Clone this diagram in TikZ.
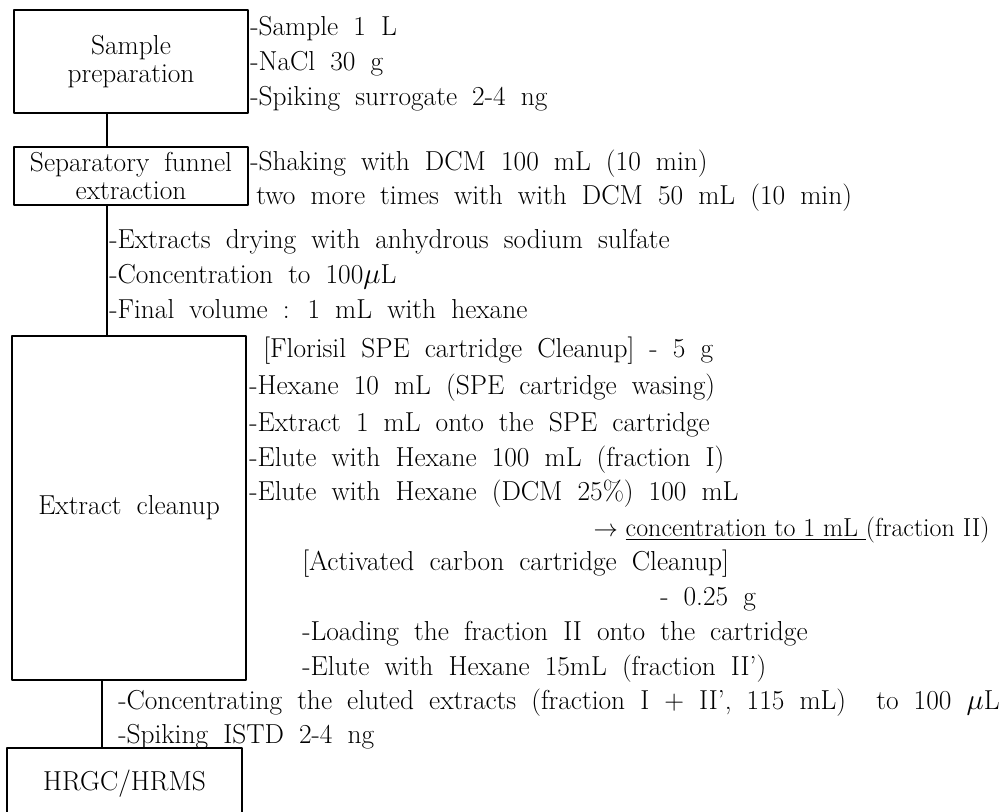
\documentclass[tikz,border=0pt]{standalone}
\usepackage{amsmath,amssymb}
\newcommand{\widesp}{\spaceskip=0.55em plus 0.1em\relax}
\newcommand{\tightsp}{\spaceskip=0.3em plus 0.05em\relax}

\begin{document}
\begin{tikzpicture}[line cap=round,line join=round,x=0.025cm,y=-0.025cm,
  font=\fontsize{19.5}{19.5}\selectfont\widesp,
  stage/.style={draw,line width=1.4pt,inner sep=0pt,align=center,minimum width=5.85cm},
  item/.style={anchor=base west,inner sep=0pt},
  link/.style={line width=1pt}]
\useasboundingbox (0,0) rectangle (1003,811);
\clip (0,0) rectangle (1003,811);
\node[stage,minimum height=2.575cm] (prep) at (131,61.5) {Sample\\preparation};
\node[stage,minimum height=1.45cm] (sepf) at (131,176) {Separatory funnel\\extraction};
\node[stage,minimum height=8.6cm] (clean) at (129,508) {Extract cleanup};
\node[stage,minimum width=5.875cm,minimum height=1.8cm] (hrgc) at (124.5,784) {HRGC/HRMS};
\coordinate (ua) at (107,0);
\coordinate (ub) at (102,0);
\draw [link] (prep.south -| ua)-- (sepf.north -| ua);
\draw [link] (sepf.south -| ua)-- (clean.north -| ua);
\draw [link] (clean.south -| ub)-- (hrgc.north -| ub);
\node[item] (samp) at (250,35) {-Sample 1 L};
\node[item] (nacl) at (250,70) {-NaCl 30 g};
\node[item] (spike) at (250,105) {-Spiking surrogate 2-4 ng};
\node[item] (shake) at (250,170) {-Shaking with DCM 100 mL (10 min)};
\node[item] (twomore) at (256,204) {two more times with with DCM 50 mL (10 min)};
\node[item] (dry) at (109,248) {-Extracts drying with anhydrous sodium sulfate};
\node[item] (conc) at (109,283) {-Concentration to 100$\mu$L};
\node[item] (finvol) at (109,318) {-Final volume : 1 mL with hexane};
\node[item] (flori) at (263,357) {[Florisil SPE cartridge Cleanup] - 5 g};
\node[item] (hexwash) at (249,394) {-Hexane 10 mL (SPE cartridge wasing)};
\node[item] (loadspe) at (249,431) {-Extract 1 mL onto the SPE cartridge};
\node[item] (eluteI) at (249,466) {-Elute with Hexane 100 mL (fraction I)};
\node[item] (eluteII) at (249,500) {-Elute with Hexane (DCM 25\%) 100 mL};
\node[item,anchor=base east,font=\fontsize{18.5}{18.5}\selectfont\tightsp] (concII) at (990,536) {$\rightarrow$ \underline{concentration to 1 mL\ }(fraction II)};
\node[item] (actc) at (302,570) {[Activated carbon cartridge Cleanup]};
\node[item] (carbg) at (660,605) {- 0.25 g};
\node[item] (loadcc) at (302,640) {-Loading the fraction II onto the cartridge};
\node[item] (eluteIIp) at (302,675) {-Elute with Hexane 15mL (fraction II')};
\node[item] (concall) at (118,709) {-Concentrating the eluted extracts (fraction I + II', 115 mL)\ \ to 100 $\mu$L};
\node[item] (istd) at (118,743) {-Spiking ISTD 2-4 ng};
\end{tikzpicture}
\end{document}
